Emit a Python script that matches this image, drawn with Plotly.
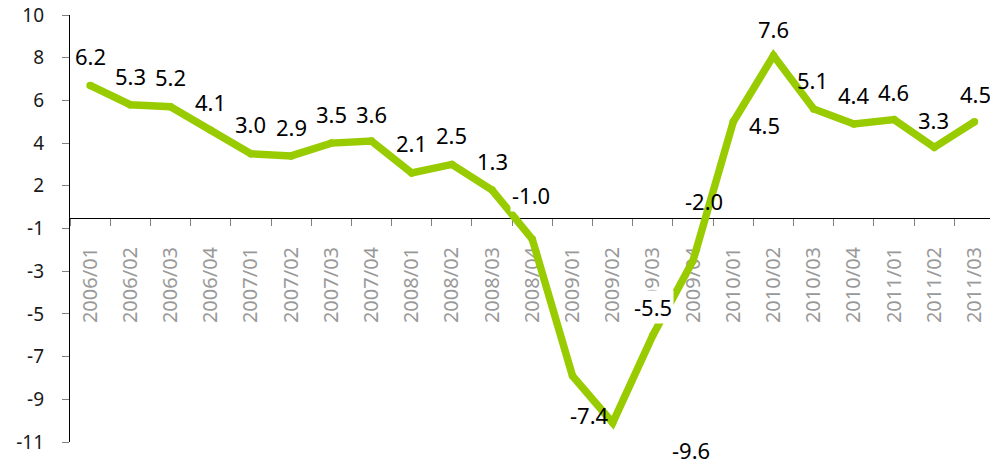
import plotly.graph_objects as go

categories = ["2006/01", "2006/02", "2006/03", "2006/04",
              "2007/01", "2007/02", "2007/03", "2007/04",
              "2008/01", "2008/02", "2008/03", "2008/04",
              "2009/01", "2009/02", "2009/03", "2009/04",
              "2010/01", "2010/02", "2010/03", "2010/04",
              "2011/01", "2011/02", "2011/03"]
values = [6.2, 5.3, 5.2, 4.1,
          3.0, 2.9, 3.5, 3.6,
          2.1, 2.5, 1.3, -1.0,
          -7.4, -9.6, -5.5, -2.0,
          4.5, 7.6, 5.1, 4.4,
          4.6, 3.3, 4.5]
label_texts = [f"{v:.1f}" for v in values]

# y-axis ticks (axis runs from -10.5 to 9.5, step 2, labels rounded to integers)
y_tickvals = [-10.5, -8.5, -6.5, -4.5, -2.5, -0.5, 1.5, 3.5, 5.5, 7.5, 9.5]
y_ticktext = ["-11", "-9", "-7", "-5", "-3", "-1", "2", "4", "6", "8", "10"]

# label pixel offsets (style only)
label_dx = [0, 0, 0, 0, 0, 0, 0, 0, 0, 0, 0, -1, 17, 78, 0, 11, 31, 0, -1, 0, -1, -1, 1]
label_dy = [29, 29, 29.5, 28.5, 29.5, 29, 29, 27, 30, 29, 29, 44, -39.5, -27.5, 28, 60, -3.5, 27, 29, 29, 27.5, 27.5, 27.5]
label_bg = [False] * 11 + [True, False, False, True] + [False] * 8

GREEN = "#99CC00"
FONT = "Noto Sans"

fig = go.Figure()
fig.add_trace(go.Scatter(
    x=categories, y=values, mode="lines+markers",
    line=dict(color=GREEN, width=7.5),
    marker=dict(color=GREEN, size=7.5),
    hoverinfo="skip", showlegend=False,
))

for i, (c, v, t) in enumerate(zip(categories, values, label_texts)):
    fig.add_annotation(
        x=c, y=v, text=t, showarrow=False,
        xshift=label_dx[i], yshift=label_dy[i],
        font=dict(family=FONT, size=22, color="#000000"),
        bgcolor="white" if label_bg[i] else "rgba(0,0,0,0)",
        borderpad=1,
    )

fig.update_layout(
    width=990, height=461,
    margin=dict(l=70, r=0, t=15, b=19, autoexpand=False),
    paper_bgcolor="white", plot_bgcolor="white",
    showlegend=False,
    xaxis=dict(
        type="category",
        range=[-0.5, 22.386],
        anchor="free", position=0.525,
        showline=True, linecolor="#000000", linewidth=1.3,
        showgrid=False, zeroline=False,
        ticks="outside", ticklen=7, tickcolor="#808080", tickwidth=1,
        tickson="boundaries",
        tickangle=-90,
        tickfont=dict(family=FONT, size=20, color="#999999"),
        ticklabelstandoff=20,
        layer="below traces",
        automargin=False,
    ),
    yaxis=dict(
        range=[-10.5, 9.5],
        tickvals=y_tickvals, ticktext=y_ticktext,
        showline=True, linecolor="#000000", linewidth=1.3,
        showgrid=False, zeroline=False,
        ticks="outside", ticklen=7, tickcolor="#808080", tickwidth=1,
        tickfont=dict(family=FONT, size=19, color="#1a1a1a"),
        ticklabelstandoff=14,
        automargin=False,
    ),
)

fig.write_html("out.html", config={"displayModeBar": False},
               post_script="document.body.style.margin='0';document.body.style.overflow='hidden';")
